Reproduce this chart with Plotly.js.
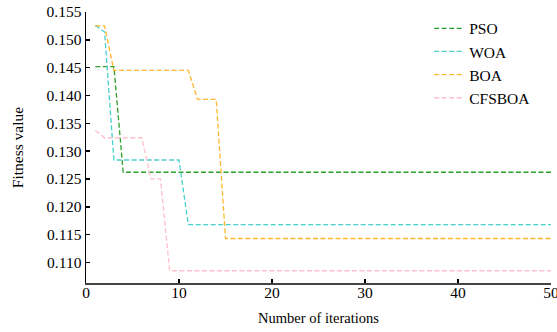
<!DOCTYPE html>
<html>
<head>
<meta charset="utf-8">
<script src="https://cdn.plot.ly/plotly-3.0.1.min.js"></script>
<style>html,body{margin:0;padding:0;background:#fff;}#chart{width:557px;height:332px;}</style>
</head>
<body>
<div id="chart"></div>
<script>
var iterations = [1,2,3,4,5,6,7,8,9,10,11,12,13,14,15,16,17,18,19,20,21,22,23,24,25,26,27,28,29,30,31,32,33,34,35,36,37,38,39,40,41,42,43,44,45,46,47,48,49,50];
var seriesNames = ["PSO", "WOA", "BOA", "CFSBOA"];
var pso = [0.1452,0.1452,0.1452,0.1262,0.1262,0.1262,0.1262,0.1262,0.1262,0.1262,
  0.1262,0.1262,0.1262,0.1262,0.1262,0.1262,0.1262,0.1262,0.1262,0.1262,
  0.1262,0.1262,0.1262,0.1262,0.1262,0.1262,0.1262,0.1262,0.1262,0.1262,
  0.1262,0.1262,0.1262,0.1262,0.1262,0.1262,0.1262,0.1262,0.1262,0.1262,
  0.1262,0.1262,0.1262,0.1262,0.1262,0.1262,0.1262,0.1262,0.1262,0.1262];
var woa = [0.1526,0.1514,0.1284,0.1284,0.1284,0.1284,0.1284,0.1284,0.1284,0.1284,
  0.1168,0.1168,0.1168,0.1168,0.1168,0.1168,0.1168,0.1168,0.1168,0.1168,
  0.1168,0.1168,0.1168,0.1168,0.1168,0.1168,0.1168,0.1168,0.1168,0.1168,
  0.1168,0.1168,0.1168,0.1168,0.1168,0.1168,0.1168,0.1168,0.1168,0.1168,
  0.1168,0.1168,0.1168,0.1168,0.1168,0.1168,0.1168,0.1168,0.1168,0.1168];
var boa = [0.1525,0.1525,0.1445,0.1445,0.1445,0.1445,0.1445,0.1445,0.1445,0.1445,
  0.1445,0.1393,0.1393,0.1393,0.1143,0.1143,0.1143,0.1143,0.1143,0.1143,
  0.1143,0.1143,0.1143,0.1143,0.1143,0.1143,0.1143,0.1143,0.1143,0.1143,
  0.1143,0.1143,0.1143,0.1143,0.1143,0.1143,0.1143,0.1143,0.1143,0.1143,
  0.1143,0.1143,0.1143,0.1143,0.1143,0.1143,0.1143,0.1143,0.1143,0.1143];
var cfsboa = [0.1337,0.1324,0.1324,0.1324,0.1324,0.1324,0.1250,0.1250,0.1085,0.1085,
  0.1085,0.1085,0.1085,0.1085,0.1085,0.1085,0.1085,0.1085,0.1085,0.1085,
  0.1085,0.1085,0.1085,0.1085,0.1085,0.1085,0.1085,0.1085,0.1085,0.1085,
  0.1085,0.1085,0.1085,0.1085,0.1085,0.1085,0.1085,0.1085,0.1085,0.1085,
  0.1085,0.1085,0.1085,0.1085,0.1085,0.1085,0.1085,0.1085,0.1085,0.1085];
var xTicks = [0,10,20,30,40,50];
var yTicks = [0.110,0.115,0.120,0.125,0.130,0.135,0.140,0.145,0.150,0.155];
var yTickLabels = ["0.110","0.115","0.120","0.125","0.130","0.135","0.140","0.145","0.150","0.155"];

var colors = ["#2ca02c", "#48d1cc", "#ffb52e", "#ffc0cb"];
var allSeries = [pso, woa, boa, cfsboa];
var traces = allSeries.map(function(s, i){
  return {x: iterations, y: s, name: seriesNames[i], type: "scatter", mode: "lines",
    line: {color: colors[i], width: 1.3, dash: "5px,2.5px"}};
});
var font = "Liberation Serif, Times New Roman, serif";
var layout = {
  width: 557, height: 332,
  margin: {l: 85.5, r: 6, t: 11.7, b: 49.3},
  paper_bgcolor: "#fff", plot_bgcolor: "#fff",
  font: {family: font, color: "#000"},
  showlegend: true,
  legend: {x: 0.738, y: 1.001, xanchor: "left", yanchor: "top", bgcolor: "rgba(0,0,0,0)",
    borderwidth: 0, font: {family: font, size: 15.5, color: "#000"}, itemwidth: 30, tracegroupgap: 0},
  xaxis: {range: [0, 50], tickvals: xTicks, ticktext: xTicks.map(String), ticks: "inside", ticklen: 4,
    tickwidth: 1.5, tickcolor: "#000", showline: true, linecolor: "#444", linewidth: 1.8,
    showgrid: false, zeroline: false, tickfont: {family: font, size: 15.5, color: "#000"},
    ticklabelstandoff: -5, ticklabeloverflow: "allow",
    title: {text: "Number of iterations", font: {family: font, size: 14.5, color: "#000"}, standoff: 12},
    automargin: false},
  yaxis: {range: [0.1063, 0.155], tickvals: yTicks, ticktext: yTickLabels, ticks: "inside", ticklen: 4,
    tickwidth: 1.5, tickcolor: "#000", showline: true, linecolor: "#000", linewidth: 1.5,
    showgrid: false, zeroline: false, tickfont: {family: font, size: 15.5, color: "#000"},
    ticklabeloverflow: "allow",
    title: {text: "Fitness value", font: {family: font, size: 15.5, color: "#000"}, standoff: 19},
    automargin: false}
};
Plotly.newPlot("chart", traces, layout, {displayModeBar: false, staticPlot: true});
</script>
</body>
</html>
